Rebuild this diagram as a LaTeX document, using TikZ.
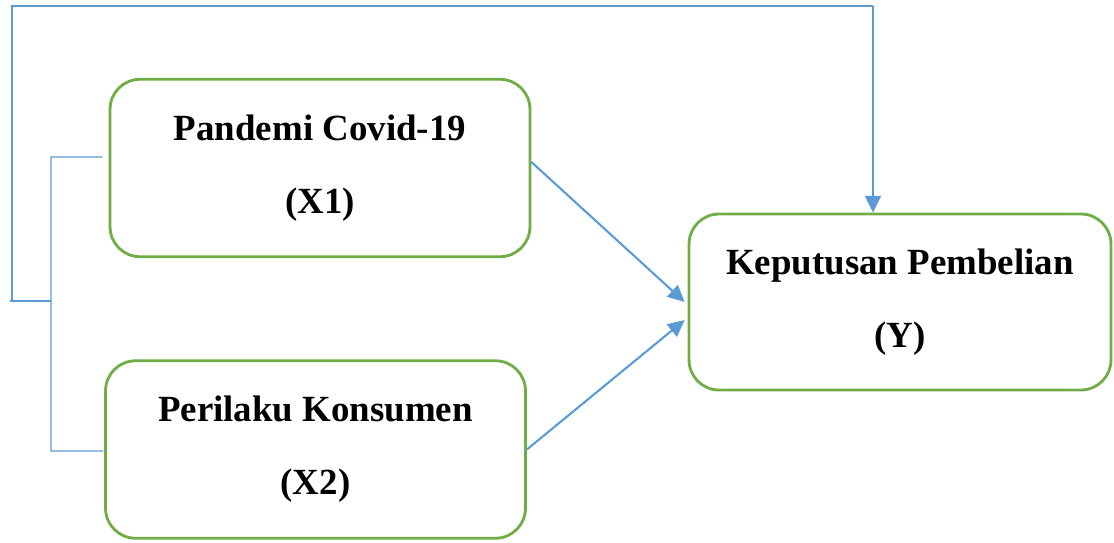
\documentclass[tikz,border=0pt]{standalone}
\usepackage{fontspec}
\setmainfont{Liberation Serif}
\usetikzlibrary{arrows.meta}
\definecolor{boxgreen}{HTML}{70AD47}
\definecolor{linkblue}{HTML}{5B9BD5}

\begin{document}
\begin{tikzpicture}[x=0.02cm, y=-0.02cm,
box/.style={draw=boxgreen, line width=1.6pt, rounded corners=0.6cm,
minimum width=8.4cm, minimum height=3.55cm, align=center, inner sep=0pt,
font=\bfseries\fontsize{21}{41.5}\selectfont},
thin link/.style={draw=linkblue, line width=0.6pt},
arrow link/.style={draw=linkblue, line width=1.2pt,
-{Triangle[length=9.5pt,width=9pt]}}]
\useasboundingbox (0,0) rectangle (1114,542);
\node [box] (x1) at (320,168) {Pandemi Covid-19\\(X1)};
\node [box] (x2) at (315.5,449.5) {Perilaku Konsumen\\(X2)};
\node [box, minimum width=8.44cm, minimum height=3.52cm] (y) at (900,302) {Keputusan Pembelian\\(Y)};
% bracket on the left
\coordinate (b1) at (51,157);
\coordinate (b2) at (51,451);
\coordinate (bm) at (51,301);
\coordinate (bl) at (12,301);
\coordinate (tr) at (873,6);
\draw [thin link] ([shift={(-6,-11)}]x1.west) -- (b1) -- (b2) -- ([shift={(-1,1.5)}]x2.west);
\draw [thin link] (bm) -- ([shift={(-2,0)}]bl) (bl) |- (tr);
% arrows
\draw [arrow link] (tr) -- ([shift={(-27,0)}]y.north);
\draw [arrow link] ([shift={(0,-6)}]x1.east) -- ([shift={(-3,0)}]y.west);
\draw [arrow link] (x2.east) -- ([shift={(-3,18)}]y.west);
\end{tikzpicture}
\end{document}
